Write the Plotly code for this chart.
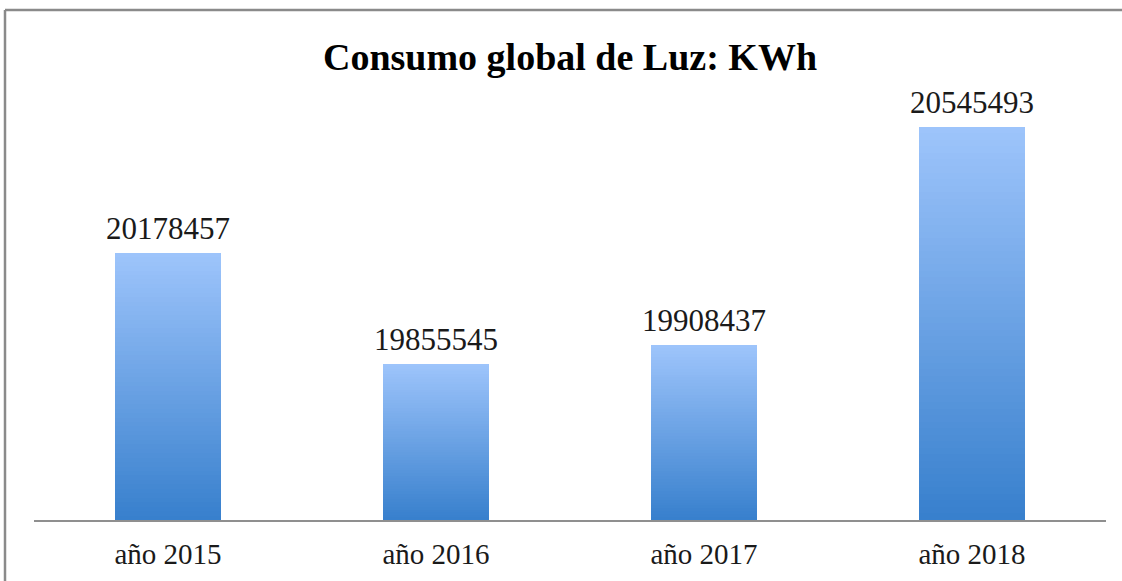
import plotly.graph_objects as go

categories = ["año 2015", "año 2016", "año 2017", "año 2018"]
values = [20178457, 19855545, 19908437, 20545493]
value_labels = ["20178457", "19855545", "19908437", "20545493"]

Y_MIN, Y_MAX = 19400000, 20600000
TOP_RGB = (157, 196, 251)
BOT_RGB = (56, 128, 205)
N_LAYERS = 60

W, H = 1122, 581
ML, MR, MT, MB = 34, 16, 108, 61

fig = go.Figure()
# gradient: overlay progressively shorter & darker copies of the same bars
for k in range(N_LAYERS):
    t = k / (N_LAYERS - 1)
    r = round(TOP_RGB[0] + (BOT_RGB[0] - TOP_RGB[0]) * t)
    g = round(TOP_RGB[1] + (BOT_RGB[1] - TOP_RGB[1]) * t)
    b = round(TOP_RGB[2] + (BOT_RGB[2] - TOP_RGB[2]) * t)
    frac = 1 - k / N_LAYERS
    fig.add_trace(go.Bar(
        x=categories,
        y=[(v - Y_MIN) * frac for v in values],
        base=Y_MIN,
        width=0.395,
        marker=dict(color=f"rgb({r},{g},{b})", line=dict(width=0)),
        hoverinfo="skip" if k else "x+y",
        showlegend=False,
    ))

for c, v, lab in zip(categories, values, value_labels):
    fig.add_annotation(x=c, y=v, text=lab, showarrow=False, yanchor="bottom", yshift=5,
                       font=dict(family="Liberation Serif", size=31, color="#1a1a1a"))

pw = W - ML - MR
ph = H - MT - MB
xl = (5 - ML) / pw
yt = 1 + (MT - 10) / ph
fig.add_shape(type="line", xref="paper", yref="paper", x0=xl, x1=1.2, y0=yt, y1=yt,
              line=dict(color="#8a8a8a", width=2.5))
fig.add_shape(type="line", xref="paper", yref="paper", x0=xl, x1=xl, y0=-0.5, y1=yt,
              line=dict(color="#8a8a8a", width=2.5))

fig.update_layout(
    width=W, height=H,
    margin=dict(l=ML, r=MR, t=MT, b=MB),
    barmode="overlay",
    bargap=0,
    paper_bgcolor="white",
    plot_bgcolor="white",
    title=dict(text="<b>Consumo global de Luz: KWh</b>", x=570 / W, xanchor="center",
               y=1 - 57 / H, yanchor="middle",
               font=dict(family="Liberation Serif", size=38, color="black")),
    xaxis=dict(showline=True, linecolor="#8f8f8f", linewidth=1.5, ticks="",
               ticklabelstandoff=7, showgrid=False, automargin=False,
               tickfont=dict(family="Liberation Serif", size=29, color="#1a1a1a")),
    yaxis=dict(range=[Y_MIN, Y_MAX], visible=False, showgrid=False, automargin=False),
)

fig.write_html("out.html", config={"displayModeBar": False},
               post_script="document.body.style.margin='0';document.body.style.overflow='hidden';")
